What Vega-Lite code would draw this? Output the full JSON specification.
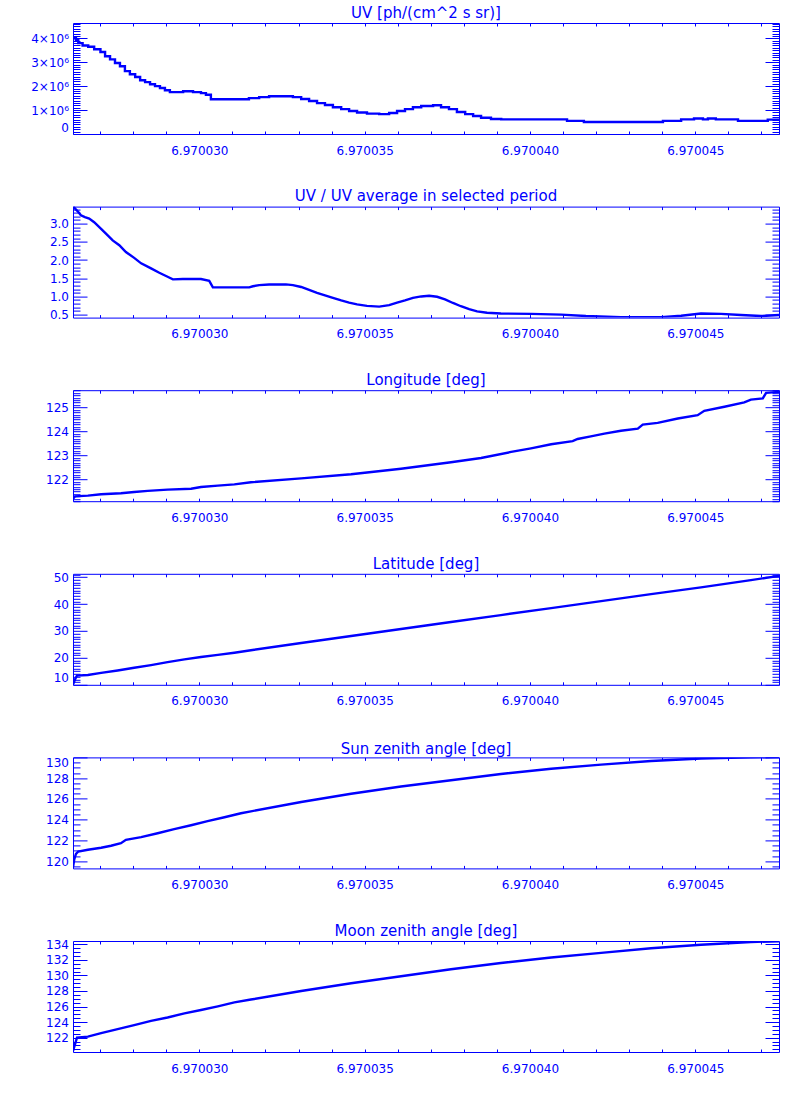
{
  "$schema": "https://vega.github.io/schema/vega-lite/v6.json",
  "padding": {"left": 30, "top": 5, "right": 5, "bottom": 5},
  "background": "white",
  "spacing": 72.6,
  "bounds": "flush",
  "config": {
    "view": {"stroke": "#0000ff", "strokeWidth": 1},
    "axis": {"domain": false, "grid": false, "tickColor": "#0000ff", "tickOpacity": 1, "tickWidth": 1, "labelColor": "#0000ff", "labelFont": "DejaVu Sans", "labelFontSize": 12, "labelOverlap": false, "labelBound": false},
    "title": {"font": "DejaVu Sans", "fontSize": 15, "fontWeight": "normal", "color": "#0000ff", "anchor": "middle"}
  },
  "datasets": {
    "uv": [
      {"time": 6.97002618, "value": 4000000}, {"time": 6.97002627, "value": 3920000}, {"time": 6.97002634, "value": 3800000}, {"time": 6.97002647, "value": 3700000}, {"time": 6.97002664, "value": 3650000}, {"time": 6.97002682, "value": 3540000}, {"time": 6.97002701, "value": 3430000}, {"time": 6.97002715, "value": 3250000}, {"time": 6.9700273, "value": 3120000}, {"time": 6.97002745, "value": 2970000}, {"time": 6.9700276, "value": 2830000}, {"time": 6.97002775, "value": 2630000}, {"time": 6.9700279, "value": 2500000}, {"time": 6.97002806, "value": 2380000}, {"time": 6.97002821, "value": 2250000}, {"time": 6.97002836, "value": 2170000}, {"time": 6.97002851, "value": 2080000}, {"time": 6.97002866, "value": 2000000}, {"time": 6.97002881, "value": 1920000}, {"time": 6.97002896, "value": 1830000}, {"time": 6.97002911, "value": 1750000}, {"time": 6.97002951, "value": 1790000}, {"time": 6.97002981, "value": 1750000}, {"time": 6.97003005, "value": 1710000}, {"time": 6.9700302, "value": 1640000}, {"time": 6.97003035, "value": 1450000}, {"time": 6.9700315, "value": 1500000}, {"time": 6.97003181, "value": 1540000}, {"time": 6.97003211, "value": 1580000}, {"time": 6.97003283, "value": 1540000}, {"time": 6.97003308, "value": 1460000}, {"time": 6.97003332, "value": 1380000}, {"time": 6.97003356, "value": 1290000}, {"time": 6.9700338, "value": 1210000}, {"time": 6.97003404, "value": 1120000}, {"time": 6.97003429, "value": 1040000}, {"time": 6.97003453, "value": 960000}, {"time": 6.97003477, "value": 900000}, {"time": 6.97003507, "value": 850000}, {"time": 6.97003544, "value": 830000}, {"time": 6.97003574, "value": 880000}, {"time": 6.97003598, "value": 960000}, {"time": 6.97003622, "value": 1040000}, {"time": 6.97003646, "value": 1120000}, {"time": 6.97003671, "value": 1170000}, {"time": 6.97003707, "value": 1200000}, {"time": 6.97003731, "value": 1120000}, {"time": 6.97003755, "value": 1040000}, {"time": 6.97003779, "value": 920000}, {"time": 6.97003804, "value": 830000}, {"time": 6.97003828, "value": 750000}, {"time": 6.97003852, "value": 680000}, {"time": 6.97003882, "value": 630000}, {"time": 6.97003913, "value": 610000}, {"time": 6.97004112, "value": 550000}, {"time": 6.97004163, "value": 500000}, {"time": 6.97004402, "value": 550000}, {"time": 6.97004457, "value": 610000}, {"time": 6.97004496, "value": 650000}, {"time": 6.97004523, "value": 610000}, {"time": 6.97004538, "value": 650000}, {"time": 6.97004562, "value": 610000}, {"time": 6.97004629, "value": 550000}, {"time": 6.97004719, "value": 600000}, {"time": 6.97004753, "value": 600000}
    ],
    "ratio": [
      {"time": 6.97002618, "value": 3.47}, {"time": 6.97002621, "value": 3.45}, {"time": 6.97002634, "value": 3.32}, {"time": 6.97002642, "value": 3.23}, {"time": 6.97002654, "value": 3.18}, {"time": 6.97002667, "value": 3.14}, {"time": 6.97002682, "value": 3.04}, {"time": 6.97002703, "value": 2.86}, {"time": 6.97002723, "value": 2.68}, {"time": 6.97002738, "value": 2.54}, {"time": 6.97002758, "value": 2.41}, {"time": 6.97002778, "value": 2.22}, {"time": 6.97002803, "value": 2.06}, {"time": 6.97002824, "value": 1.91}, {"time": 6.97002854, "value": 1.77}, {"time": 6.97002879, "value": 1.65}, {"time": 6.97002904, "value": 1.54}, {"time": 6.9700292, "value": 1.47}, {"time": 6.9700295, "value": 1.48}, {"time": 6.97003005, "value": 1.48}, {"time": 6.9700303, "value": 1.43}, {"time": 6.97003041, "value": 1.25}, {"time": 6.97003151, "value": 1.25}, {"time": 6.97003162, "value": 1.28}, {"time": 6.97003181, "value": 1.31}, {"time": 6.97003211, "value": 1.33}, {"time": 6.97003262, "value": 1.33}, {"time": 6.97003283, "value": 1.31}, {"time": 6.97003308, "value": 1.26}, {"time": 6.97003332, "value": 1.18}, {"time": 6.97003356, "value": 1.1}, {"time": 6.9700338, "value": 1.03}, {"time": 6.97003404, "value": 0.96}, {"time": 6.97003429, "value": 0.89}, {"time": 6.97003453, "value": 0.83}, {"time": 6.97003477, "value": 0.78}, {"time": 6.97003507, "value": 0.74}, {"time": 6.97003544, "value": 0.72}, {"time": 6.97003574, "value": 0.76}, {"time": 6.97003598, "value": 0.83}, {"time": 6.97003622, "value": 0.89}, {"time": 6.97003646, "value": 0.96}, {"time": 6.97003671, "value": 1.0}, {"time": 6.97003695, "value": 1.02}, {"time": 6.97003719, "value": 0.99}, {"time": 6.97003743, "value": 0.92}, {"time": 6.97003767, "value": 0.82}, {"time": 6.97003791, "value": 0.73}, {"time": 6.97003816, "value": 0.65}, {"time": 6.9700384, "value": 0.59}, {"time": 6.9700387, "value": 0.55}, {"time": 6.97003912, "value": 0.53}, {"time": 6.97004003, "value": 0.52}, {"time": 6.97004094, "value": 0.5}, {"time": 6.97004169, "value": 0.46}, {"time": 6.97004275, "value": 0.43}, {"time": 6.97004396, "value": 0.43}, {"time": 6.97004457, "value": 0.47}, {"time": 6.97004517, "value": 0.53}, {"time": 6.97004578, "value": 0.52}, {"time": 6.97004638, "value": 0.49}, {"time": 6.97004699, "value": 0.46}, {"time": 6.97004753, "value": 0.49}
    ],
    "lon": [
      {"time": 6.97002618, "value": 121.2}, {"time": 6.97002624, "value": 121.3}, {"time": 6.97002663, "value": 121.33}, {"time": 6.97002703, "value": 121.39}, {"time": 6.97002763, "value": 121.43}, {"time": 6.97002803, "value": 121.48}, {"time": 6.97002844, "value": 121.53}, {"time": 6.97002904, "value": 121.58}, {"time": 6.97002975, "value": 121.62}, {"time": 6.97003005, "value": 121.69}, {"time": 6.97003056, "value": 121.75}, {"time": 6.97003106, "value": 121.8}, {"time": 6.97003156, "value": 121.89}, {"time": 6.97003308, "value": 122.05}, {"time": 6.97003459, "value": 122.22}, {"time": 6.9700361, "value": 122.45}, {"time": 6.97003761, "value": 122.72}, {"time": 6.97003852, "value": 122.9}, {"time": 6.97003943, "value": 123.15}, {"time": 6.97004003, "value": 123.3}, {"time": 6.97004064, "value": 123.47}, {"time": 6.97004129, "value": 123.6}, {"time": 6.97004144, "value": 123.69}, {"time": 6.97004184, "value": 123.8}, {"time": 6.97004225, "value": 123.91}, {"time": 6.97004275, "value": 124.03}, {"time": 6.97004326, "value": 124.12}, {"time": 6.97004341, "value": 124.29}, {"time": 6.97004386, "value": 124.36}, {"time": 6.97004447, "value": 124.54}, {"time": 6.97004507, "value": 124.68}, {"time": 6.97004527, "value": 124.86}, {"time": 6.97004588, "value": 125.03}, {"time": 6.97004648, "value": 125.21}, {"time": 6.97004668, "value": 125.33}, {"time": 6.97004704, "value": 125.38}, {"time": 6.97004714, "value": 125.61}, {"time": 6.97004753, "value": 125.65}
    ],
    "lat": [
      {"time": 6.97002618, "value": 10.1}, {"time": 6.97002624, "value": 11.9}, {"time": 6.9700263, "value": 13.4}, {"time": 6.97002663, "value": 13.6}, {"time": 6.97002703, "value": 14.4}, {"time": 6.97002753, "value": 15.3}, {"time": 6.97002803, "value": 16.3}, {"time": 6.97002854, "value": 17.3}, {"time": 6.97002904, "value": 18.4}, {"time": 6.97002955, "value": 19.4}, {"time": 6.97003005, "value": 20.3}, {"time": 6.97003056, "value": 21.1}, {"time": 6.97003106, "value": 21.9}, {"time": 6.97003156, "value": 22.8}, {"time": 6.97003308, "value": 25.5}, {"time": 6.97003459, "value": 28.1}, {"time": 6.9700361, "value": 30.7}, {"time": 6.97003761, "value": 33.3}, {"time": 6.97003912, "value": 35.9}, {"time": 6.97004064, "value": 38.5}, {"time": 6.97004215, "value": 41.1}, {"time": 6.97004366, "value": 43.7}, {"time": 6.97004517, "value": 46.2}, {"time": 6.97004668, "value": 48.9}, {"time": 6.97004753, "value": 50.5}
    ],
    "sza": [
      {"time": 6.97002618, "value": 119.4}, {"time": 6.97002622, "value": 120.2}, {"time": 6.97002627, "value": 120.7}, {"time": 6.97002634, "value": 120.93}, {"time": 6.97002663, "value": 121.1}, {"time": 6.97002703, "value": 121.29}, {"time": 6.97002733, "value": 121.48}, {"time": 6.97002763, "value": 121.73}, {"time": 6.97002778, "value": 122.06}, {"time": 6.97002824, "value": 122.31}, {"time": 6.97002874, "value": 122.69}, {"time": 6.97002924, "value": 123.08}, {"time": 6.97002975, "value": 123.46}, {"time": 6.97003025, "value": 123.85}, {"time": 6.97003076, "value": 124.23}, {"time": 6.97003126, "value": 124.62}, {"time": 6.97003156, "value": 124.8}, {"time": 6.97003308, "value": 125.7}, {"time": 6.97003459, "value": 126.5}, {"time": 6.9700361, "value": 127.2}, {"time": 6.97003761, "value": 127.8}, {"time": 6.97003912, "value": 128.4}, {"time": 6.97004064, "value": 128.9}, {"time": 6.97004215, "value": 129.3}, {"time": 6.97004366, "value": 129.65}, {"time": 6.97004517, "value": 129.9}, {"time": 6.97004668, "value": 130.0}, {"time": 6.97004753, "value": 130.05}
    ],
    "mza": [
      {"time": 6.97002618, "value": 120.28}, {"time": 6.97002624, "value": 121.14}, {"time": 6.9700263, "value": 122.0}, {"time": 6.97002663, "value": 122.13}, {"time": 6.97002703, "value": 122.57}, {"time": 6.97002753, "value": 123.09}, {"time": 6.97002803, "value": 123.61}, {"time": 6.97002854, "value": 124.16}, {"time": 6.97002904, "value": 124.59}, {"time": 6.97002955, "value": 125.11}, {"time": 6.97003005, "value": 125.55}, {"time": 6.97003056, "value": 126.02}, {"time": 6.97003106, "value": 126.53}, {"time": 6.97003156, "value": 126.9}, {"time": 6.97003308, "value": 128.0}, {"time": 6.97003459, "value": 129.0}, {"time": 6.9700361, "value": 129.9}, {"time": 6.97003761, "value": 130.8}, {"time": 6.97003912, "value": 131.6}, {"time": 6.97004064, "value": 132.3}, {"time": 6.97004215, "value": 132.9}, {"time": 6.97004366, "value": 133.5}, {"time": 6.97004517, "value": 133.95}, {"time": 6.97004668, "value": 134.3}, {"time": 6.97004753, "value": 134.4}
    ]
  },
  "vconcat": [
    {
      "title": {"text": "UV [ph/(cm^2 s sr)]", "offset": -1},
      "width": 706, "height": 111,
      "data": {"name": "uv"},
      "resolve": {"axis": {"x": "independent", "y": "independent"}},
      "layer": [
        {
          "mark": {"type": "line", "color": "#0000ff", "strokeWidth": 2.4, "interpolate": "step-after", "clip": true},
          "encoding": {
            "x": {"field": "time", "type": "quantitative", "scale": {"domain": [6.97002618, 6.97004753], "nice": false, "zero": false},
              "axis": {"orient": "bottom", "title": null, "tickColor": "#0000ff", "values": [6.970027, 6.970028, 6.970029, 6.970030, 6.970031, 6.970032, 6.970033, 6.970034, 6.970035, 6.970036, 6.970037, 6.970038, 6.970039, 6.970040, 6.970041, 6.970042, 6.970043, 6.970044, 6.970045, 6.970046, 6.970047], "tickSize": -3, "labelPadding": 14, "labelFlush": false, "labelExpr": "abs(datum.value*1e6 - round(datum.value*2e5)*5) < 0.01 ? format(datum.value, '.6f') : ''"}},
            "y": {"field": "value", "type": "quantitative", "scale": {"domain": [0, 4640000], "nice": false, "zero": false},
              "axis": {"orient": "left", "title": null, "tickColor": "#0000ff", "values": [0, 100000, 200000, 300000, 400000, 500000, 600000, 700000, 800000, 900000, 1000000, 1100000, 1200000, 1300000, 1400000, 1500000, 1600000, 1700000, 1800000, 1900000, 2000000, 2100000, 2200000, 2300000, 2400000, 2500000, 2600000, 2700000, 2800000, 2900000, 3000000, 3100000, 3200000, 3300000, 3400000, 3500000, 3600000, 3700000, 3800000, 3900000, 4000000, 4100000, 4200000, 4300000, 4400000, 4500000, 4600000],
                "tickSize": {"condition": {"test": "abs(datum.value/1e6 - round(datum.value/1e6)) < 0.01", "value": -14}, "value": -7},
                "labelPadding": 18.5, "labelFlush": 2,
                "labelExpr": "abs(datum.value/1e6 - round(datum.value/1e6)) < 0.01 ? (datum.value == 0 ? '0' : round(datum.value/1e6) + '×10⁶') : ''"}}
          }
        },
        {
          "mark": {"type": "line", "strokeOpacity": 0},
          "encoding": {
            "x": {"field": "time", "type": "quantitative", "scale": {"domain": [6.97002618, 6.97004753], "nice": false, "zero": false},
              "axis": {"orient": "top", "title": null, "tickColor": "#0000ff", "labels": false, "values": [6.970027, 6.970028, 6.970029, 6.970030, 6.970031, 6.970032, 6.970033, 6.970034, 6.970035, 6.970036, 6.970037, 6.970038, 6.970039, 6.970040, 6.970041, 6.970042, 6.970043, 6.970044, 6.970045, 6.970046, 6.970047], "tickSize": -3}},
            "y": {"field": "value", "type": "quantitative", "scale": {"domain": [0, 4640000], "nice": false, "zero": false},
              "axis": {"orient": "right", "title": null, "tickColor": "#0000ff", "labels": false, "values": [0, 100000, 200000, 300000, 400000, 500000, 600000, 700000, 800000, 900000, 1000000, 1100000, 1200000, 1300000, 1400000, 1500000, 1600000, 1700000, 1800000, 1900000, 2000000, 2100000, 2200000, 2300000, 2400000, 2500000, 2600000, 2700000, 2800000, 2900000, 3000000, 3100000, 3200000, 3300000, 3400000, 3500000, 3600000, 3700000, 3800000, 3900000, 4000000, 4100000, 4200000, 4300000, 4400000, 4500000, 4600000],
                "tickSize": {"condition": {"test": "abs(datum.value/1e6 - round(datum.value/1e6)) < 0.01", "value": -14}, "value": -7}}}
          }
        }
      ]
    },
    {
      "title": {"text": "UV / UV average in selected period", "offset": -1},
      "width": 706, "height": 111,
      "data": {"name": "ratio"},
      "resolve": {"axis": {"x": "independent", "y": "independent"}},
      "layer": [
        {
          "mark": {"type": "line", "color": "#0000ff", "strokeWidth": 2.4, "clip": true},
          "encoding": {
            "x": {"field": "time", "type": "quantitative", "scale": {"domain": [6.97002618, 6.97004753], "nice": false, "zero": false},
              "axis": {"orient": "bottom", "title": null, "tickColor": "#0000ff", "values": [6.970027, 6.970028, 6.970029, 6.970030, 6.970031, 6.970032, 6.970033, 6.970034, 6.970035, 6.970036, 6.970037, 6.970038, 6.970039, 6.970040, 6.970041, 6.970042, 6.970043, 6.970044, 6.970045, 6.970046, 6.970047], "tickSize": -3, "labelPadding": 14, "labelFlush": false, "labelExpr": "abs(datum.value*1e6 - round(datum.value*2e5)*5) < 0.01 ? format(datum.value, '.6f') : ''"}},
            "y": {"field": "value", "type": "quantitative", "scale": {"domain": [0.418, 3.47], "nice": false, "zero": false},
              "axis": {"orient": "left", "title": null, "tickColor": "#0000ff", "values": [0.5, 0.6, 0.7, 0.8, 0.9, 1.0, 1.1, 1.2, 1.3, 1.4, 1.5, 1.6, 1.7, 1.8, 1.9, 2.0, 2.1, 2.2, 2.3, 2.4, 2.5, 2.6, 2.7, 2.8, 2.9, 3.0, 3.1, 3.2, 3.3, 3.4],
                "tickSize": {"condition": {"test": "abs(datum.value*2 - round(datum.value*2)) < 0.01", "value": -14}, "value": -7},
                "labelPadding": 18.5, "labelFlush": 2,
                "labelExpr": "abs(datum.value*2 - round(datum.value*2)) < 0.01 ? format(datum.value, '.1f') : ''"}}
          }
        },
        {
          "mark": {"type": "line", "strokeOpacity": 0},
          "encoding": {
            "x": {"field": "time", "type": "quantitative", "scale": {"domain": [6.97002618, 6.97004753], "nice": false, "zero": false},
              "axis": {"orient": "top", "title": null, "tickColor": "#0000ff", "labels": false, "values": [6.970027, 6.970028, 6.970029, 6.970030, 6.970031, 6.970032, 6.970033, 6.970034, 6.970035, 6.970036, 6.970037, 6.970038, 6.970039, 6.970040, 6.970041, 6.970042, 6.970043, 6.970044, 6.970045, 6.970046, 6.970047], "tickSize": -3}},
            "y": {"field": "value", "type": "quantitative", "scale": {"domain": [0.418, 3.47], "nice": false, "zero": false},
              "axis": {"orient": "right", "title": null, "tickColor": "#0000ff", "labels": false, "values": [0.5, 0.6, 0.7, 0.8, 0.9, 1.0, 1.1, 1.2, 1.3, 1.4, 1.5, 1.6, 1.7, 1.8, 1.9, 2.0, 2.1, 2.2, 2.3, 2.4, 2.5, 2.6, 2.7, 2.8, 2.9, 3.0, 3.1, 3.2, 3.3, 3.4],
                "tickSize": {"condition": {"test": "abs(datum.value*2 - round(datum.value*2)) < 0.01", "value": -14}, "value": -7}}}
          }
        }
      ]
    },
    {
      "title": {"text": "Longitude [deg]", "offset": -1},
      "width": 706, "height": 111,
      "data": {"name": "lon"},
      "resolve": {"axis": {"x": "independent", "y": "independent"}},
      "layer": [
        {
          "mark": {"type": "line", "color": "#0000ff", "strokeWidth": 2.4, "clip": true},
          "encoding": {
            "x": {"field": "time", "type": "quantitative", "scale": {"domain": [6.97002618, 6.97004753], "nice": false, "zero": false},
              "axis": {"orient": "bottom", "title": null, "tickColor": "#0000ff", "values": [6.970027, 6.970028, 6.970029, 6.970030, 6.970031, 6.970032, 6.970033, 6.970034, 6.970035, 6.970036, 6.970037, 6.970038, 6.970039, 6.970040, 6.970041, 6.970042, 6.970043, 6.970044, 6.970045, 6.970046, 6.970047], "tickSize": -3, "labelPadding": 14, "labelFlush": false, "labelExpr": "abs(datum.value*1e6 - round(datum.value*2e5)*5) < 0.01 ? format(datum.value, '.6f') : ''"}},
            "y": {"field": "value", "type": "quantitative", "scale": {"domain": [121.1, 125.72], "nice": false, "zero": false},
              "axis": {"orient": "left", "title": null, "tickColor": "#0000ff", "values": [121.1, 121.2, 121.3, 121.4, 121.5, 121.6, 121.7, 121.8, 121.9, 122.0, 122.1, 122.2, 122.3, 122.4, 122.5, 122.6, 122.7, 122.8, 122.9, 123.0, 123.1, 123.2, 123.3, 123.4, 123.5, 123.6, 123.7, 123.8, 123.9, 124.0, 124.1, 124.2, 124.3, 124.4, 124.5, 124.6, 124.7, 124.8, 124.9, 125.0, 125.1, 125.2, 125.3, 125.4, 125.5, 125.6, 125.7],
                "tickSize": {"condition": {"test": "abs(datum.value - round(datum.value)) < 0.01", "value": -14}, "value": -7},
                "labelPadding": 18.5, "labelFlush": 2,
                "labelExpr": "abs(datum.value - round(datum.value)) < 0.01 ? format(datum.value, 'd') : ''"}}
          }
        },
        {
          "mark": {"type": "line", "strokeOpacity": 0},
          "encoding": {
            "x": {"field": "time", "type": "quantitative", "scale": {"domain": [6.97002618, 6.97004753], "nice": false, "zero": false},
              "axis": {"orient": "top", "title": null, "tickColor": "#0000ff", "labels": false, "values": [6.970027, 6.970028, 6.970029, 6.970030, 6.970031, 6.970032, 6.970033, 6.970034, 6.970035, 6.970036, 6.970037, 6.970038, 6.970039, 6.970040, 6.970041, 6.970042, 6.970043, 6.970044, 6.970045, 6.970046, 6.970047], "tickSize": -3}},
            "y": {"field": "value", "type": "quantitative", "scale": {"domain": [121.1, 125.72], "nice": false, "zero": false},
              "axis": {"orient": "right", "title": null, "tickColor": "#0000ff", "labels": false, "values": [121.1, 121.2, 121.3, 121.4, 121.5, 121.6, 121.7, 121.8, 121.9, 122.0, 122.1, 122.2, 122.3, 122.4, 122.5, 122.6, 122.7, 122.8, 122.9, 123.0, 123.1, 123.2, 123.3, 123.4, 123.5, 123.6, 123.7, 123.8, 123.9, 124.0, 124.1, 124.2, 124.3, 124.4, 124.5, 124.6, 124.7, 124.8, 124.9, 125.0, 125.1, 125.2, 125.3, 125.4, 125.5, 125.6, 125.7],
                "tickSize": {"condition": {"test": "abs(datum.value - round(datum.value)) < 0.01", "value": -14}, "value": -7}}}
          }
        }
      ]
    },
    {
      "title": {"text": "Latitude [deg]", "offset": -1},
      "width": 706, "height": 111,
      "data": {"name": "lat"},
      "resolve": {"axis": {"x": "independent", "y": "independent"}},
      "layer": [
        {
          "mark": {"type": "line", "color": "#0000ff", "strokeWidth": 2.4, "clip": true},
          "encoding": {
            "x": {"field": "time", "type": "quantitative", "scale": {"domain": [6.97002618, 6.97004753], "nice": false, "zero": false},
              "axis": {"orient": "bottom", "title": null, "tickColor": "#0000ff", "values": [6.970027, 6.970028, 6.970029, 6.970030, 6.970031, 6.970032, 6.970033, 6.970034, 6.970035, 6.970036, 6.970037, 6.970038, 6.970039, 6.970040, 6.970041, 6.970042, 6.970043, 6.970044, 6.970045, 6.970046, 6.970047], "tickSize": -3, "labelPadding": 14, "labelFlush": false, "labelExpr": "abs(datum.value*1e6 - round(datum.value*2e5)*5) < 0.01 ? format(datum.value, '.6f') : ''"}},
            "y": {"field": "value", "type": "quantitative", "scale": {"domain": [9.96, 51.25], "nice": false, "zero": false},
              "axis": {"orient": "left", "title": null, "tickColor": "#0000ff", "values": [10, 11, 12, 13, 14, 15, 16, 17, 18, 19, 20, 21, 22, 23, 24, 25, 26, 27, 28, 29, 30, 31, 32, 33, 34, 35, 36, 37, 38, 39, 40, 41, 42, 43, 44, 45, 46, 47, 48, 49, 50, 51],
                "tickSize": {"condition": {"test": "abs(datum.value/10 - round(datum.value/10)) < 0.01", "value": -14}, "value": -7},
                "labelPadding": 18.5, "labelFlush": 2,
                "labelExpr": "abs(datum.value/10 - round(datum.value/10)) < 0.01 ? format(datum.value, 'd') : ''"}}
          }
        },
        {
          "mark": {"type": "line", "strokeOpacity": 0},
          "encoding": {
            "x": {"field": "time", "type": "quantitative", "scale": {"domain": [6.97002618, 6.97004753], "nice": false, "zero": false},
              "axis": {"orient": "top", "title": null, "tickColor": "#0000ff", "labels": false, "values": [6.970027, 6.970028, 6.970029, 6.970030, 6.970031, 6.970032, 6.970033, 6.970034, 6.970035, 6.970036, 6.970037, 6.970038, 6.970039, 6.970040, 6.970041, 6.970042, 6.970043, 6.970044, 6.970045, 6.970046, 6.970047], "tickSize": -3}},
            "y": {"field": "value", "type": "quantitative", "scale": {"domain": [9.96, 51.25], "nice": false, "zero": false},
              "axis": {"orient": "right", "title": null, "tickColor": "#0000ff", "labels": false, "values": [10, 11, 12, 13, 14, 15, 16, 17, 18, 19, 20, 21, 22, 23, 24, 25, 26, 27, 28, 29, 30, 31, 32, 33, 34, 35, 36, 37, 38, 39, 40, 41, 42, 43, 44, 45, 46, 47, 48, 49, 50, 51],
                "tickSize": {"condition": {"test": "abs(datum.value/10 - round(datum.value/10)) < 0.01", "value": -14}, "value": -7}}}
          }
        }
      ]
    },
    {
      "title": {"text": "Sun zenith angle [deg]", "offset": -1},
      "width": 706, "height": 111,
      "data": {"name": "sza"},
      "resolve": {"axis": {"x": "independent", "y": "independent"}},
      "layer": [
        {
          "mark": {"type": "line", "color": "#0000ff", "strokeWidth": 2.4, "clip": true},
          "encoding": {
            "x": {"field": "time", "type": "quantitative", "scale": {"domain": [6.97002618, 6.97004753], "nice": false, "zero": false},
              "axis": {"orient": "bottom", "title": null, "tickColor": "#0000ff", "values": [6.970027, 6.970028, 6.970029, 6.970030, 6.970031, 6.970032, 6.970033, 6.970034, 6.970035, 6.970036, 6.970037, 6.970038, 6.970039, 6.970040, 6.970041, 6.970042, 6.970043, 6.970044, 6.970045, 6.970046, 6.970047], "tickSize": -3, "labelPadding": 14, "labelFlush": false, "labelExpr": "abs(datum.value*1e6 - round(datum.value*2e5)*5) < 0.01 ? format(datum.value, '.6f') : ''"}},
            "y": {"field": "value", "type": "quantitative", "scale": {"domain": [119.3, 130], "nice": false, "zero": false},
              "axis": {"orient": "left", "title": null, "tickColor": "#0000ff", "values": [119.5, 120, 120.5, 121, 121.5, 122, 122.5, 123, 123.5, 124, 124.5, 125, 125.5, 126, 126.5, 127, 127.5, 128, 128.5, 129, 129.5, 130],
                "tickSize": {"condition": {"test": "abs(datum.value/2 - round(datum.value/2)) < 0.01", "value": -14}, "value": -7},
                "labelPadding": 18.5, "labelFlush": 2,
                "labelExpr": "abs(datum.value/2 - round(datum.value/2)) < 0.01 ? format(datum.value, 'd') : ''"}}
          }
        },
        {
          "mark": {"type": "line", "strokeOpacity": 0},
          "encoding": {
            "x": {"field": "time", "type": "quantitative", "scale": {"domain": [6.97002618, 6.97004753], "nice": false, "zero": false},
              "axis": {"orient": "top", "title": null, "tickColor": "#0000ff", "labels": false, "values": [6.970027, 6.970028, 6.970029, 6.970030, 6.970031, 6.970032, 6.970033, 6.970034, 6.970035, 6.970036, 6.970037, 6.970038, 6.970039, 6.970040, 6.970041, 6.970042, 6.970043, 6.970044, 6.970045, 6.970046, 6.970047], "tickSize": -3}},
            "y": {"field": "value", "type": "quantitative", "scale": {"domain": [119.3, 130], "nice": false, "zero": false},
              "axis": {"orient": "right", "title": null, "tickColor": "#0000ff", "labels": false, "values": [119.5, 120, 120.5, 121, 121.5, 122, 122.5, 123, 123.5, 124, 124.5, 125, 125.5, 126, 126.5, 127, 127.5, 128, 128.5, 129, 129.5, 130],
                "tickSize": {"condition": {"test": "abs(datum.value/2 - round(datum.value/2)) < 0.01", "value": -14}, "value": -7}}}
          }
        }
      ]
    },
    {
      "title": {"text": "Moon zenith angle [deg]", "offset": -1},
      "width": 706, "height": 111,
      "data": {"name": "mza"},
      "resolve": {"axis": {"x": "independent", "y": "independent"}},
      "layer": [
        {
          "mark": {"type": "line", "color": "#0000ff", "strokeWidth": 2.4, "clip": true},
          "encoding": {
            "x": {"field": "time", "type": "quantitative", "scale": {"domain": [6.97002618, 6.97004753], "nice": false, "zero": false},
              "axis": {"orient": "bottom", "title": null, "tickColor": "#0000ff", "values": [6.970027, 6.970028, 6.970029, 6.970030, 6.970031, 6.970032, 6.970033, 6.970034, 6.970035, 6.970036, 6.970037, 6.970038, 6.970039, 6.970040, 6.970041, 6.970042, 6.970043, 6.970044, 6.970045, 6.970046, 6.970047], "tickSize": -3, "labelPadding": 14, "labelFlush": false, "labelExpr": "abs(datum.value*1e6 - round(datum.value*2e5)*5) < 0.01 ? format(datum.value, '.6f') : ''"}},
            "y": {"field": "value", "type": "quantitative", "scale": {"domain": [120.15, 134.43], "nice": false, "zero": false},
              "axis": {"orient": "left", "title": null, "tickColor": "#0000ff", "values": [120.5, 121, 121.5, 122, 122.5, 123, 123.5, 124, 124.5, 125, 125.5, 126, 126.5, 127, 127.5, 128, 128.5, 129, 129.5, 130, 130.5, 131, 131.5, 132, 132.5, 133, 133.5, 134],
                "tickSize": {"condition": {"test": "abs(datum.value/2 - round(datum.value/2)) < 0.01", "value": -14}, "value": -7},
                "labelPadding": 18.5, "labelFlush": 2,
                "labelExpr": "abs(datum.value/2 - round(datum.value/2)) < 0.01 ? format(datum.value, 'd') : ''"}}
          }
        },
        {
          "mark": {"type": "line", "strokeOpacity": 0},
          "encoding": {
            "x": {"field": "time", "type": "quantitative", "scale": {"domain": [6.97002618, 6.97004753], "nice": false, "zero": false},
              "axis": {"orient": "top", "title": null, "tickColor": "#0000ff", "labels": false, "values": [6.970027, 6.970028, 6.970029, 6.970030, 6.970031, 6.970032, 6.970033, 6.970034, 6.970035, 6.970036, 6.970037, 6.970038, 6.970039, 6.970040, 6.970041, 6.970042, 6.970043, 6.970044, 6.970045, 6.970046, 6.970047], "tickSize": -3}},
            "y": {"field": "value", "type": "quantitative", "scale": {"domain": [120.15, 134.43], "nice": false, "zero": false},
              "axis": {"orient": "right", "title": null, "tickColor": "#0000ff", "labels": false, "values": [120.5, 121, 121.5, 122, 122.5, 123, 123.5, 124, 124.5, 125, 125.5, 126, 126.5, 127, 127.5, 128, 128.5, 129, 129.5, 130, 130.5, 131, 131.5, 132, 132.5, 133, 133.5, 134],
                "tickSize": {"condition": {"test": "abs(datum.value/2 - round(datum.value/2)) < 0.01", "value": -14}, "value": -7}}}
          }
        }
      ]
    }
  ]
}
